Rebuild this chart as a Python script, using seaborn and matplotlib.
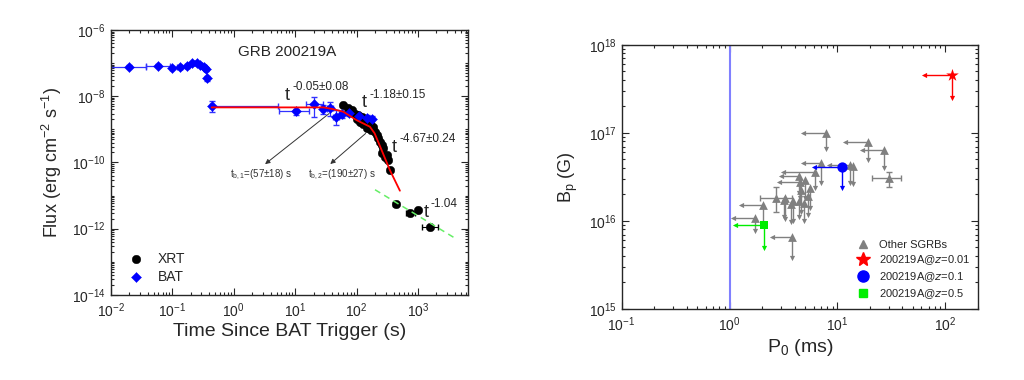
import numpy as np
import pandas as pd
import matplotlib
matplotlib.use("Agg")
import matplotlib.pyplot as plt
import matplotlib.ticker as mticker
from matplotlib.lines import Line2D
import seaborn as sns

sns.set_style("ticks")
plt.rcParams['font.family'] = ['Liberation Sans', 'DejaVu Sans']
plt.rcParams['mathtext.default'] = 'regular'

# ---------------- left panel: GRB 200219A light curve ----------------
# BAT points (time s, flux) + error edges
bat_t = [0.0196, 0.059, 0.098, 0.133, 0.175, 0.214, 0.25, 0.29, 0.33, 0.36, 0.37,
         0.44, 10.5, 20.5, 29, 37, 47, 57, 75, 110, 150, 180]
bat_f = [7.8e-8, 8.3e-8, 7.3e-8, 7.5e-8, 8.0e-8, 1.0e-7, 1.0e-7, 9.0e-8, 7.8e-8, 6.5e-8, 3.5e-8,
         5.0e-9, 3.5e-9, 5.8e-9, 4.1e-9, 4.3e-9, 2.4e-9, 2.9e-9, 3.2e-9, 2.6e-9, 2.2e-9, 2.0e-9]
bat_t_lo = [0.0101, 0.038, 0.091, 0.122, 0.16, 0.2, 0.235, 0.275, 0.315, 0.345, 0.355,
            0.41, 5.5, 15, 26, 33, 42, 52, 68, 100, 135, 165]
bat_t_hi = [0.038, 0.091, 0.105, 0.145, 0.19, 0.23, 0.265, 0.305, 0.345, 0.375, 0.385,
            5.3, 17, 28, 33, 42, 52, 62, 82, 120, 165, 195]
bat_f_lo = [7.0e-8, 7.5e-8, 6.6e-8, 6.8e-8, 7.2e-8, 9.0e-8, 9.0e-8, 8.1e-8, 7.0e-8, 5.8e-8, 2.8e-8,
            3.4e-9, 2.8e-9, 2.3e-9, 3.0e-9, 2.6e-9, 1.4e-9, 2.2e-9, 2.5e-9, 2.0e-9, 1.7e-9, 1.5e-9]
bat_f_hi = [8.6e-8, 9.1e-8, 8.0e-8, 8.2e-8, 8.8e-8, 1.1e-7, 1.1e-7, 9.9e-8, 8.6e-8, 7.2e-8, 4.2e-8,
            7.0e-9, 4.2e-9, 9.5e-9, 5.5e-9, 6.5e-9, 3.8e-9, 3.6e-9, 3.9e-9, 3.2e-9, 2.7e-9, 2.5e-9]

# XRT points
xrt_t = [61, 73, 83, 94, 100, 107, 115, 121, 129, 137, 150, 165, 175, 187, 199, 213,
         226, 241, 256, 256, 272, 290, 309, 329, 350, 436, 755, 1000, 1570]
xrt_f = [5.4e-9, 4.3e-9, 3.8e-9, 3.0e-9, 2.0e-9, 2.7e-9, 1.7e-9, 2.4e-9, 1.5e-9, 2.1e-9, 1.1e-9,
         1.5e-9, 9.5e-10, 1.2e-9, 8.5e-10, 6.8e-10, 5.4e-10, 4.2e-10, 3.4e-10, 1.9e-10, 2.7e-10,
         1.5e-10, 1.7e-10, 1.17e-10, 5.9e-11, 5.4e-12, 2.9e-12, 3.6e-12, 1.15e-12]
xrt_late_t = [436, 755, 1570]
xrt_late_lo = [395, 640, 1150]
xrt_late_hi = [480, 900, 2140]
xrt_late_f = [5.4e-12, 2.9e-12, 1.15e-12]

# broken power-law fit (red) and late decay (green dashed)
fit_t = [0.44, 29, 41, 61, 100, 165, 197, 255, 350, 508]
fit_f = [4.6e-9, 4.6e-9, 4.1e-9, 3.4e-9, 1.9e-9, 1.2e-9, 7.6e-10, 2.4e-10, 5.8e-11, 1.4e-11]
late_t = [200, 4270]
late_f = [1.5e-11, 4.8e-13]

# power-law index labels: anchor of the "t", exponent text
slope_t = [6.8, 121, 372, 1222]
slope_f = [7.7e-9, 4.6e-9, 2.1e-10, 2.3e-12]
slope_exp = ['-0.05\u00b10.08', '-1.18\u00b10.15', '-4.67\u00b10.24', '-1.04']

# ---------------- right panel: B_p vs P_0 ----------------
other_P = [7.8, 19.2, 26.9, 13.2, 14.0, 7.0, 6.2, 4.4, 4.5, 5.6, 4.6, 5.3, 4.4, 3.85, 3.2,
           3.7, 2.04, 1.71, 3.8, 3.3, 4.9, 5.0]
other_B = [1.0e17, 7.9e16, 6.4e16, 4.3e16, 4.2e16, 4.6e16, 3.55e16, 3.2e16, 2.75e16, 2.35e16,
           2.25e16, 1.9e16, 1.7e16, 1.7e16, 1.75e16, 1.55e16, 1.5e16, 1.07e16, 6.5e15,
           1.8e16, 1.6e16, 2.9e16]
other_Plim = [4.75, 11.7, 17.0, 8.4, np.nan, 4.8, 3.1, 3.0, 2.9, np.nan, np.nan, np.nan, np.nan,
              np.nan, np.nan, np.nan, 1.29, 1.08, 2.5, np.nan, np.nan, np.nan]
other_Blim = [6.5e16, 4.9e16, 4.0e16, 2.7e16, 2.6e16, 2.7e16, 2.35e16, 2.05e16, 1.8e16, 1.4e16,
              1.27e16, 1.17e16, 1.12e16, 1.0e16, 1.1e16, 9.8e15, 9.0e15, 7.6e15, 3.8e15,
              1.05e16, 1.0e16, 1.8e16]
# two SGRBs with measured values (error bars)
meas_P = [29.9, 2.7]
meas_P_lo = [20.9, 1.9]
meas_P_hi = [39.1, 3.8]
meas_B = [3.05e16, 1.8e16]
meas_B_lo = [2.45e16, 1.27e16]
meas_B_hi = [3.6e16, 2.45e16]

# 200219A at three redshifts: P, B, left-arrow tip, down-arrow tip
grb_label = ['200219A@$\\it{z}$=0.01', '200219A@$\\it{z}$=0.1', '200219A@$\\it{z}$=0.5']
grb_P = [114, 11.0, 2.1]
grb_B = [4.6e17, 4.1e16, 9.0e15]
grb_Plim = [62.7, 6.1, 1.12]
grb_Blim = [2.5e17, 2.35e16, 4.9e15]
grb_color = ['#ff0000', '#0000ff', '#00ee00']
grb_marker = ['*', 'o', 's']
grb_size = [90, 55, 30]

fig = plt.figure(figsize=(10.24, 3.8), dpi=100)
ax1 = fig.add_axes([0.108, 0.224, 0.349, 0.697])
ax2 = fig.add_axes([0.607, 0.187, 0.348, 0.695])

# ---- left
bat_t_a = np.array(bat_t); bat_f_a = np.array(bat_f)
ax1.errorbar(bat_t_a, bat_f_a,
             xerr=[bat_t_a - np.array(bat_t_lo), np.array(bat_t_hi) - bat_t_a],
             yerr=[bat_f_a - np.array(bat_f_lo), np.array(bat_f_hi) - bat_f_a],
             fmt='none', ecolor='#3333ff', elinewidth=0.9, capsize=2.5, zorder=2)
lt = np.array(xrt_late_t)
ax1.errorbar(lt, xrt_late_f, xerr=[lt - np.array(xrt_late_lo), np.array(xrt_late_hi) - lt],
             fmt='none', ecolor='black', elinewidth=0.8, capsize=2.5, zorder=2)

xrt_df = pd.DataFrame({'t': xrt_t, 'flux': xrt_f})
bat_df = pd.DataFrame({'t': bat_t, 'flux': bat_f})
sns.scatterplot(data=xrt_df, x='t', y='flux', ax=ax1, color='black', marker='o', s=38,
                edgecolor='black', linewidth=0.3, zorder=3, label='XRT')
sns.scatterplot(data=bat_df, x='t', y='flux', ax=ax1, color='#0000ff', marker='D', s=26,
                edgecolor='#0000ff', linewidth=0.3, zorder=4, label='BAT')
ax1.plot(fit_t, fit_f, color='#ff0000', lw=1.3, zorder=5)
ax1.plot(late_t, late_f, color='#66ee66', lw=1.1, ls=(0, (4, 3)), zorder=5)

ax1.set_xscale('log'); ax1.set_yscale('log')
ax1.set_xlim(0.01, 6500)
ax1.set_ylim(1e-14, 1e-6)
ax1.set_yticks([1e-14, 1e-12, 1e-10, 1e-8, 1e-6])
ax1.yaxis.set_minor_locator(mticker.LogLocator(base=10, subs=np.arange(1, 10), numticks=100))
ax1.xaxis.set_minor_locator(mticker.LogLocator(base=10, subs=np.arange(2, 10), numticks=100))
ax1.yaxis.set_minor_formatter(mticker.NullFormatter())
ax1.xaxis.set_minor_formatter(mticker.NullFormatter())
ax1.set_xlabel('Time Since BAT Trigger (s)', fontsize=14, labelpad=2)
ax1.set_ylabel('Flux (erg cm$^{-2}$ s$^{-1}$)', fontsize=13, labelpad=6)

ax1.text(0.493, 0.917, 'GRB 200219A', transform=ax1.transAxes, ha='center', va='center', fontsize=11)
for st, sf, se in zip(slope_t, slope_f, slope_exp):
    ax1.text(st, sf, 't', fontsize=13, ha='left', va='baseline')
    ax1.annotate(se, xy=(st, sf), xytext=(5.5, 7), textcoords='offset points',
                 fontsize=8.5, ha='left', va='baseline')
ax1.annotate('', xy=(3.0, 7.9e-11), xytext=(39, 3.4e-9),
             arrowprops=dict(arrowstyle='-|>', color='#333333', lw=0.7, mutation_scale=7))
ax1.annotate('', xy=(34.6, 7.9e-11), xytext=(152, 8.5e-10),
             arrowprops=dict(arrowstyle='-|>', color='#333333', lw=0.7, mutation_scale=7))
ax1.text(2.8, 4.2e-11, 't$_{b,1}$=(57\u00b118) s', fontsize=7, ha='center', va='center', color='#333333')
ax1.text(57, 4.2e-11, 't$_{b,2}$=(190\u00b127) s', fontsize=7, ha='center', va='center', color='#333333')
ax1.legend(loc='lower left', frameon=False, fontsize=10, handletextpad=0.6,
           borderaxespad=0.4, labelspacing=0.3)

# ---- right
ax2.axvline(1.0, color='#8080ff', lw=1.5, zorder=1)
oP = np.array(other_P); oB = np.array(other_B)
oPl = np.array(other_Plim); oBl = np.array(other_Blim)
grey = '#808080'
m = ~np.isnan(oPl)
for p, b, pl in zip(oP[m], oB[m], oPl[m]):
    ax2.plot([p, pl], [b, b], color=grey, lw=1.0, zorder=2)
ax2.scatter(oPl[m], oB[m], marker='<', s=14, color=grey, zorder=2, linewidths=0)
m = ~np.isnan(oBl)
for p, b, bl in zip(oP[m], oB[m], oBl[m]):
    ax2.plot([p, p], [b, bl], color=grey, lw=1.0, zorder=2)
ax2.scatter(oP[m], oBl[m], marker='v', s=14, color=grey, zorder=2, linewidths=0)
mP = np.array(meas_P); mB = np.array(meas_B)
ax2.errorbar(mP, mB, xerr=[mP - np.array(meas_P_lo), np.array(meas_P_hi) - mP],
             yerr=[mB - np.array(meas_B_lo), np.array(meas_B_hi) - mB],
             fmt='none', ecolor=grey, elinewidth=1.0, capsize=2.5, zorder=2)
other_df = pd.DataFrame({'P': list(other_P) + meas_P, 'B': list(other_B) + meas_B})
sns.scatterplot(data=other_df, x='P', y='B', ax=ax2, marker='^', s=40, color=grey,
                linewidth=0, zorder=3)

for p, b, pl, bl, c, mk, sz in zip(grb_P, grb_B, grb_Plim, grb_Blim, grb_color, grb_marker, grb_size):
    ax2.plot([p, pl], [b, b], color=c, lw=1.0, zorder=4)
    ax2.plot([p, p], [b, bl], color=c, lw=1.0, zorder=4)
    ax2.scatter([pl], [b], marker='<', s=14, color=c, linewidths=0, zorder=4)
    ax2.scatter([p], [bl], marker='v', s=14, color=c, linewidths=0, zorder=4)
    ax2.scatter([p], [b], marker=mk, s=sz, color=c, linewidths=0, zorder=5)

ax2.set_xscale('log'); ax2.set_yscale('log')
ax2.set_xlim(0.1, 200)
ax2.set_ylim(1e15, 1e18)
ax2.yaxis.set_minor_locator(mticker.LogLocator(base=10, subs=np.arange(2, 10), numticks=100))
ax2.xaxis.set_minor_locator(mticker.LogLocator(base=10, subs=np.arange(2, 10), numticks=100))
ax2.yaxis.set_minor_formatter(mticker.NullFormatter())
ax2.xaxis.set_minor_formatter(mticker.NullFormatter())
ax2.set_xlabel('P$_0$ (ms)', fontsize=14, labelpad=2)
ax2.set_ylabel('B$_p$ (G)', fontsize=13, labelpad=6)

handles = [Line2D([], [], ls='none', marker='^', color=grey, ms=6)]
for c, mk, sz in zip(grb_color, grb_marker, [10, 8, 6]):
    handles.append(Line2D([], [], ls='none', marker=mk, color=c, ms=sz))
ax2.legend(handles, ['Other SGRBs'] + grb_label, loc='lower right', frameon=False,
           fontsize=8, handletextpad=0.4, labelspacing=0.3, borderaxespad=0.3)

for ax in (ax1, ax2):
    ax.tick_params(which='both', direction='in', top=True, right=True, labelsize=10, width=0.8)
    ax.tick_params(which='major', length=5)
    ax.tick_params(which='minor', length=2.5)
    ax.tick_params(axis='x', which='major', pad=5)
    for s in ax.spines.values():
        s.set_linewidth(1.0)
        s.set_visible(True)

fig.savefig('out.png', dpi=100)
